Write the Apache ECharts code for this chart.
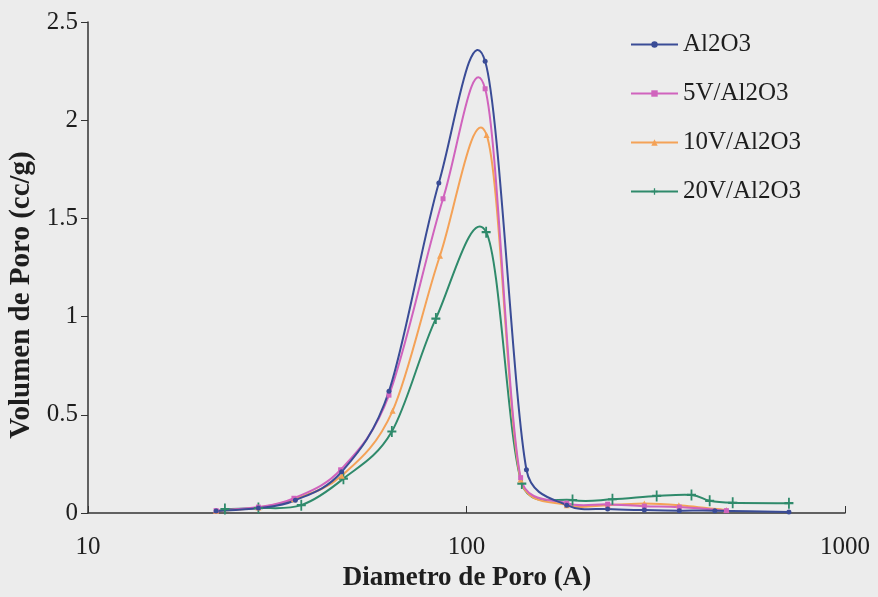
<!DOCTYPE html>
<html>
<head>
<meta charset="utf-8">
<script src="https://cdn.jsdelivr.net/npm/echarts@6/dist/echarts.min.js"></script>
<style>
  html, body { margin: 0; padding: 0; background: #ececec; }
  #chart { width: 878px; height: 597px; }
</style>
</head>
<body>
<div id="chart"></div>
<script>
// Pore size distribution: [pore diameter (A), pore volume (cc/g)]
const seriesNames = ['Al2O3', '5V/Al2O3', '10V/Al2O3', '20V/Al2O3'];

const al2o3 = [[21.8, 0.01], [28.2, 0.025], [35.3, 0.065], [46.8, 0.21], [62.4, 0.62], [84.5, 1.68], [112, 2.30], [144, 0.22], [184, 0.04], [236, 0.02], [295, 0.015], [365, 0.012], [453, 0.012], [711, 0.005]];
const v5 = [[21.8, 0.012], [28.2, 0.03], [35.0, 0.075], [46.5, 0.22], [62.4, 0.60], [86.7, 1.60], [112, 2.16], [139, 0.18], [184, 0.05], [236, 0.045], [295, 0.035], [365, 0.03], [486, 0.012]];
const v10 = [[21.8, 0.01], [28.2, 0.028], [35.0, 0.07], [46.8, 0.19], [63.8, 0.52], [85.1, 1.31], [113, 1.925], [139, 0.17], [184, 0.04], [236, 0.04], [295, 0.048], [364, 0.04], [486, 0.015]];
const v20 = [[23, 0.02], [28.2, 0.025], [36.6, 0.04], [47.3, 0.175], [63.5, 0.415], [83, 0.99], [112.7, 1.43], [140, 0.15], [190.6, 0.066], [243, 0.07], [318, 0.087], [393, 0.092], [439, 0.062], [505, 0.052], [711, 0.05]];

const xTicks = [10, 100, 1000];
const yTicks = [0, 0.5, 1, 1.5, 2, 2.5];

const colors = ['#3a4c96', '#d063bd', '#f4a257', '#2f8a6b'];
const symbols = [
  'circle',
  'rect',
  'triangle',
  'path://M4,0 L6,0 L6,4 L10,4 L10,6 L6,6 L6,10 L4,10 L4,6 L0,6 L0,4 L4,4 Z'
];
const symbolSizes = [5, 5, 6, [9, 11]];

const allData = [al2o3, v5, v10, v20];
const serif = '"Liberation Serif", "Times New Roman", serif';

// Smoothed curve: one cubic Bezier per segment. Each control arm follows the
// chord between the neighbouring points (tension 1/6), capped at half the
// segment length so short segments do not loop or undershoot.
function controlArm(prev, next, segLen) {
  const dx = next[0] - prev[0], dy = next[1] - prev[1];
  const chord = Math.hypot(dx, dy);
  if (chord === 0) return [0, 0];
  const f = Math.min(1 / 6, segLen / (2 * chord));
  return [dx * f, dy * f];
}

function curveRenderer(points, color) {
  return function (params, api) {
    const i = params.dataIndex;
    if (i >= points.length - 1) return null;
    const P = k => api.coord(points[Math.max(0, Math.min(points.length - 1, k))]);
    const p0 = P(i - 1), p1 = P(i), p2 = P(i + 1), p3 = P(i + 2);
    const seg = Math.hypot(p2[0] - p1[0], p2[1] - p1[1]);
    const a1 = controlArm(p0, p2, seg);
    const a2 = controlArm(p1, p3, seg);
    return {
      type: 'bezierCurve',
      shape: {
        x1: p1[0], y1: p1[1],
        x2: p2[0], y2: p2[1],
        cpx1: p1[0] + a1[0], cpy1: p1[1] + a1[1],
        cpx2: p2[0] - a2[0], cpy2: p2[1] - a2[1]
      },
      style: { stroke: color, lineWidth: 2, fill: null, lineCap: 'round' },
      silent: true
    };
  };
}

const curveSeries = allData.map((pts, i) => ({
  id: 'curve' + i,
  type: 'custom',
  coordinateSystem: 'cartesian2d',
  data: pts,
  encode: { x: 0, y: 1 },
  renderItem: curveRenderer(pts, colors[i]),
  clip: true,
  z: 5 - i
}));

const markerSeries = seriesNames.map((name, i) => ({
  name: name,
  type: 'line',
  data: allData[i],
  symbol: symbols[i],
  symbolSize: symbolSizes[i],
  showAllSymbol: true,
  color: colors[i],
  lineStyle: { color: colors[i], width: 2, opacity: 0 },
  itemStyle: { color: colors[i] },
  z: 10 - i
}));

const chart = echarts.init(document.getElementById('chart'), null, { renderer: 'canvas' });

chart.setOption({
  backgroundColor: '#ececec',
  animation: false,
  grid: { left: 88, right: 33, top: 22, bottom: 84, containLabel: false },
  legend: {
    orient: 'vertical',
    left: 630,
    top: 32,
    padding: 0,
    itemWidth: 47,
    itemHeight: 8,
    itemGap: 24,
    lineStyle: { width: 2, opacity: 1 },
    textStyle: { fontFamily: serif, fontSize: 25, color: '#1e1e1e' },
    data: seriesNames
  },
  xAxis: {
    type: 'log',
    logBase: 10,
    min: xTicks[0],
    max: xTicks[xTicks.length - 1],
    axisLine: { lineStyle: { color: '#333', width: 1.5 } },
    axisTick: { inside: true, length: 7, lineStyle: { color: '#333' } },
    minorTick: { show: false },
    splitLine: { show: false },
    axisLabel: {
      fontFamily: serif, fontSize: 25, color: '#1e1e1e', margin: 22,
      formatter: v => String(Math.round(v))
    }
  },
  yAxis: {
    type: 'value',
    min: yTicks[0],
    max: yTicks[yTicks.length - 1],
    interval: 0.5,
    axisLine: { show: true, lineStyle: { color: '#333', width: 1.5 } },
    axisTick: { show: true, length: 7, lineStyle: { color: '#333' } },
    splitLine: { show: false },
    axisLabel: { fontFamily: serif, fontSize: 25, color: '#1e1e1e', margin: 10 }
  },
  graphic: [
    {
      type: 'text',
      x: 467, y: 578,
      style: {
        text: 'Diametro de Poro (A)',
        font: 'bold 27px ' + serif,
        fill: '#1e1e1e',
        align: 'center',
        verticalAlign: 'middle'
      }
    },
    {
      type: 'text',
      x: 22, y: 295,
      rotation: Math.PI / 2,
      style: {
        text: 'Volumen de Poro (cc/g)',
        font: 'bold 29px ' + serif,
        fill: '#1e1e1e',
        align: 'center',
        verticalAlign: 'middle'
      }
    }
  ],
  series: curveSeries.concat(markerSeries)
});
</script>
</body>
</html>
